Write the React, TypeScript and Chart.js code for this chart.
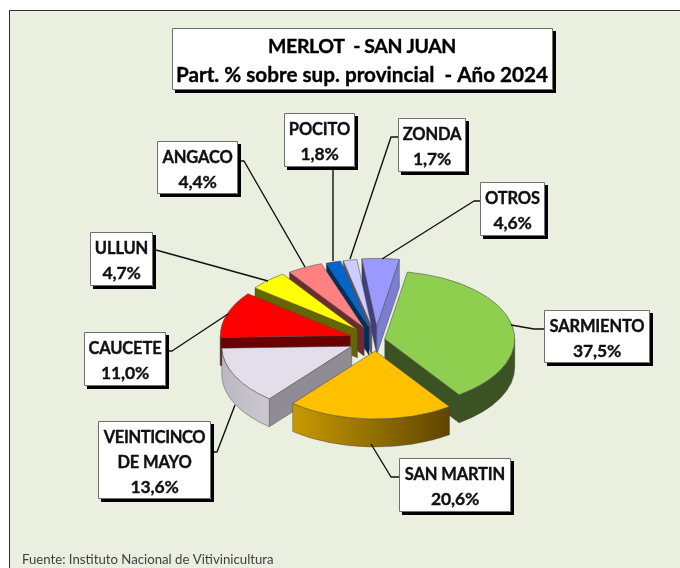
import React, { useEffect, useRef } from "react";
import { Chart, registerables } from "chart.js";

Chart.register(...registerables);

// ---- data ----
const categories = ["SARMIENTO", "SAN MARTIN", "VEINTICINCO DE MAYO", "CAUCETE", "ULLUN", "ANGACO", "POCITO", "ZONDA", "OTROS"];
const shares = [37.5, 20.6, 13.6, 11.0, 4.7, 4.4, 1.8, 1.7, 4.6];
const titleLines = ["MERLOT  - SAN JUAN", "Part. % sobre sup. provincial  - Año 2024"];
const sourceNote = "Fuente: Instituto Nacional de Vitivinicultura";

// ---- style ----
const topColors = ["#8FCF50", "#FFC000", "#E3DFEA", "#FF0000", "#FFFF00", "#FF8080", "#0066CC", "#CCCCFF", "#9999FF"];
const wallLeft = ["#3B5323", "#C89A00", "#BBB8C2", "#6B0000", "#666600", "#6B2E2E", "#002F5F", "#55557A", "#3F3F7A"];
const wallRight = ["#3B5323", "#5F4500", "#CBC8D2", "#6B0000", "#666600", "#6B2E2E", "#002F5F", "#55557A", "#7B7FD0"];
const sideFace = ["#3B5323", "#5F4500", "#8F8D93", "#6B0000", "#666600", "#6B2E2E", "#002F5F", "#55557A", "#3F3F7A"];
const endFace = ["#3B5323", "#5F4500", "#8F8D93", "#6B0000", "#666600", "#6B2E2E", "#002F5F", "#55557A", "#7B7FD0"];
const explode = [9, 21, 27, 27, 27, 26, 25, 25, 26];
const SQUASH = 0.523;
const DEPTH = 28;
const RADIUS = 130;
const FONT = "Lato, Carlito, Calibri, sans-serif";

type Box = { i: number; lines: string[]; x0: number; y0: number; x1: number; y1: number; leader: number[][] };
const boxes: Box[] = [
  { i: 0, lines: ["SARMIENTO"], x0: 544, y0: 310, x1: 650, y1: 363, leader: [[544, 329], [534, 329], [511, 325]] },
  { i: 1, lines: ["SAN MARTIN"], x0: 399, y0: 458, x1: 511, y1: 512, leader: [[399, 477], [391, 477], [371, 444]] },
  { i: 2, lines: ["VEINTICINCO", "DE MAYO"], x0: 98, y0: 421, x1: 211, y1: 499, leader: [[211, 452], [217, 452], [235, 405]] },
  { i: 3, lines: ["CAUCETE"], x0: 84, y0: 332, x1: 166, y1: 386, leader: [[166, 351], [172, 351], [228, 314]] },
  { i: 4, lines: ["ULLUN"], x0: 90, y0: 232, x1: 153, y1: 286, leader: [[156, 250], [268, 281]] },
  { i: 5, lines: ["ANGACO"], x0: 157, y0: 141, x1: 238, y1: 194, leader: [[238, 161], [244, 161], [305, 267]] },
  { i: 6, lines: ["POCITO"], x0: 284, y0: 113, x1: 355, y1: 167, leader: [[333, 167], [333, 261]] },
  { i: 7, lines: ["ZONDA"], x0: 398, y0: 118, x1: 466, y1: 172, leader: [[398, 137], [391, 137], [350, 259]] },
  { i: 8, lines: ["OTROS"], x0: 480, y0: 182, x1: 545, y1: 236, leader: [[480, 201], [474, 201], [382, 259]] },
];

const fmt = (v: number) => v.toFixed(1).replace(".", ",") + "%";

function drawBox(ctx: CanvasRenderingContext2D, x0: number, y0: number, x1: number, y1: number) {
  ctx.fillStyle = "#000";
  ctx.fillRect(x0 + 3, y0 + 3, x1 - x0, y1 - y0);
  ctx.fillStyle = "#fff";
  ctx.fillRect(x0, y0, x1 - x0, y1 - y0);
  ctx.strokeStyle = "#6f6f6f";
  ctx.lineWidth = 1;
  ctx.strokeRect(x0 + 0.5, y0 + 0.5, x1 - x0 - 1, y1 - y0 - 1);
}

function heavyText(ctx: CanvasRenderingContext2D, t: string, x: number, y: number, color: string) {
  ctx.fillStyle = color;
  ctx.strokeStyle = color;
  ctx.lineWidth = 0.35;
  ctx.lineJoin = "round";
  ctx.fillText(t, x, y);
  ctx.strokeText(t, x, y);
}

const pie3d = {
  id: "pie3d",
  beforeDraw(chart: any) {
    const ctx = chart.ctx as CanvasRenderingContext2D;
    ctx.save();
    ctx.fillStyle = "#fff";
    ctx.fillRect(0, 0, 680, 568);
    ctx.fillStyle = "#EBEFDF";
    ctx.fillRect(9, 10, 671, 558);
    ctx.fillStyle = "#333";
    ctx.fillRect(9, 10, 671, 1);
    ctx.fillRect(9, 10, 1, 558);
    ctx.restore();
  },
  beforeDatasetsDraw(chart: any) {
    const ctx = chart.ctx as CanvasRenderingContext2D;
    const arcs = chart.getDatasetMeta(0).data;
    const geo = arcs.map((a: any, i: number) => {
      const mid = (a.startAngle + a.endAngle) / 2;
      return {
        a,
        i,
        ax: a.x + Math.cos(mid) * explode[i],
        ay: a.y + Math.sin(mid) * explode[i] * SQUASH,
        r: a.outerRadius,
      };
    });
    const edge = "rgba(60,60,60,0.55)";
    // walls, back to front
    const order = [8, 7, 6, 5, 4, 3, 2, 0, 1];
    ctx.save();
    ctx.lineWidth = 0.75;
    ctx.strokeStyle = edge;
    for (const i of order) {
      const { a, ax, ay, r } = geo[i];
      const face = (ang: number, color: string) => {
        const px = ax + Math.cos(ang) * r;
        const py = ay + Math.sin(ang) * r * SQUASH;
        ctx.beginPath();
        ctx.moveTo(ax, ay);
        ctx.lineTo(px, py);
        ctx.lineTo(px, py + DEPTH);
        ctx.lineTo(ax, ay + DEPTH);
        ctx.closePath();
        ctx.fillStyle = color;
        ctx.fill();
        ctx.stroke();
      };
      if (Math.cos(a.startAngle) < 0) face(a.startAngle, sideFace[i]);
      if (Math.cos(a.endAngle) > 0) face(a.endAngle, endFace[i]);
      const a1 = Math.max(a.startAngle, 0);
      const a2 = Math.min(a.endAngle, Math.PI);
      if (a2 > a1) {
        const xa = ax + Math.cos(a2) * r;
        const xb = ax + Math.cos(Math.max(a1, 0)) * r;
        const g = ctx.createLinearGradient(xa, 0, xb, 0);
        g.addColorStop(0, wallLeft[i]);
        g.addColorStop(1, wallRight[i]);
        ctx.beginPath();
        ctx.ellipse(ax, ay, r, r * SQUASH, 0, a1, a2);
        ctx.ellipse(ax, ay + DEPTH, r, r * SQUASH, 0, a2, a1, true);
        ctx.closePath();
        ctx.fillStyle = g;
        ctx.fill();
        ctx.stroke();
      }
    }
    ctx.restore();
    // top faces: the library's own arc elements, squashed and moved out
    for (const i of order) {
      const { a, ax, ay } = geo[i];
      ctx.save();
      ctx.translate(ax, ay);
      ctx.scale(1, SQUASH);
      ctx.translate(-a.x, -a.y);
      a.draw(ctx);
      ctx.restore();
    }
    return false;
  },
  afterDraw(chart: any) {
    const ctx = chart.ctx as CanvasRenderingContext2D;
    ctx.save();
    // leaders
    ctx.strokeStyle = "#111";
    ctx.lineWidth = 1.4;
    ctx.lineJoin = "round";
    for (const b of boxes) {
      ctx.beginPath();
      b.leader.forEach((p, k) => (k ? ctx.lineTo(p[0], p[1]) : ctx.moveTo(p[0], p[1])));
      ctx.stroke();
    }
    // labels
    ctx.textAlign = "center";
    ctx.textBaseline = "alphabetic";
    for (const b of boxes) {
      drawBox(ctx, b.x0, b.y0, b.x1, b.y1);
      const rows = [...b.lines, fmt(shares[b.i])];
      const lh = 25;
      const cx = (b.x0 + b.x1) / 2;
      const cy = (b.y0 + b.y1) / 2;
      rows.forEach((t, k) => {
        const isValue = k === rows.length - 1;
        ctx.font = `bold ${isValue ? 17.5 : 16.5}px ${FONT}`;
        (ctx as any).letterSpacing = t.length > 10 ? "-0.4px" : "-0.15px";
        heavyText(ctx, t, cx, cy + (k - (rows.length - 1) / 2) * lh + 7.5, "#111");
      });
    }
    // title
    drawBox(ctx, 172, 28, 553, 90);
    ctx.font = `bold 19.5px ${FONT}`;
    (ctx as any).letterSpacing = "-0.4px";
    heavyText(ctx, titleLines[0], 362, 53, "#000");
    ctx.font = `bold 20.7px ${FONT}`;
    (ctx as any).letterSpacing = "0px";
    heavyText(ctx, titleLines[1], 362, 82, "#000");
    // source
    ctx.textAlign = "left";
    ctx.font = `13.2px ${FONT}`;
    ctx.fillStyle = "#404040";
    ctx.fillText(sourceNote, 22, 564);
    ctx.restore();
  },
};

export default function App() {
  const ref = useRef<HTMLCanvasElement | null>(null);
  useEffect(() => {
    const chart = new Chart(ref.current as HTMLCanvasElement, {
      type: "pie",
      data: {
        labels: categories,
        datasets: [
          {
            data: shares,
            backgroundColor: topColors,
            borderColor: "rgba(70,70,70,0.7)",
            borderWidth: 1,
            radius: RADIUS,
          } as any,
        ],
      },
      options: {
        responsive: false,
        animation: false,
        rotation: 10,
        layout: { padding: { left: 72, right: 0, top: 112, bottom: 0 } },
        plugins: { legend: { display: false }, title: { display: false }, tooltip: { enabled: false } },
      },
      plugins: [pie3d as any],
    });
    return () => chart.destroy();
  }, []);
  return (
    <div style={{ position: "absolute", left: 0, top: 0, width: 680, height: 568, overflow: "hidden" }}>
      <canvas ref={ref} width={680} height={568} style={{ display: "block" }} />
    </div>
  );
}
